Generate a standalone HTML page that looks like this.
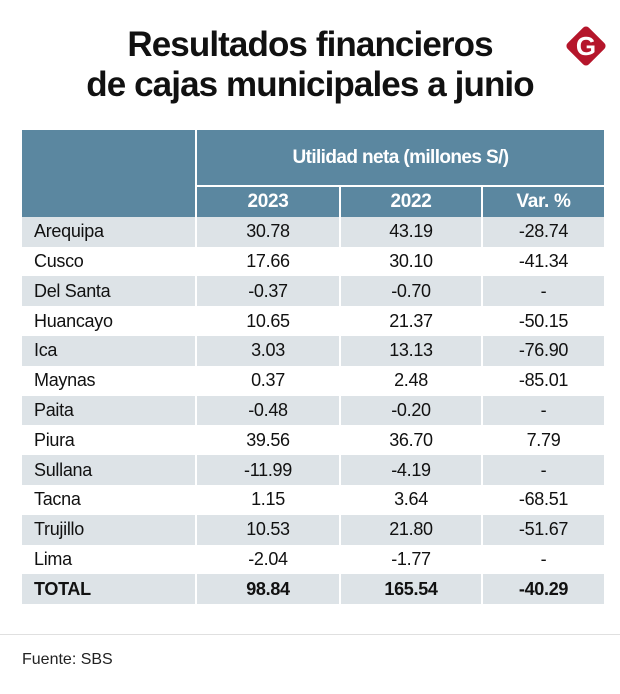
<!DOCTYPE html>
<html><head><meta charset="utf-8"><style>
body{margin:0;width:620px;height:694px;background:#fff;font-family:"Liberation Sans",sans-serif;position:relative;overflow:hidden;color:#111}
.title{position:absolute;left:0;width:620px;text-align:center;font-weight:bold;font-size:35px;letter-spacing:-0.9px;color:#111}
table{position:absolute;left:22px;top:130px;border-collapse:separate;border-spacing:2px 0;margin-left:-2px}
td{padding:0;height:29.8px;font-size:18px;text-align:center;letter-spacing:-0.3px}
td.n{text-align:left;padding-left:12px}
tr.s td{background:#dde3e7}
.h td{background:#5b87a0;color:#fff;font-weight:bold}
tr.t td{font-weight:bold}
</style></head><body>
<div class="title" style="top:25px">Resultados financieros</div>
<div class="title" style="top:65px">de cajas municipales a junio</div>
<svg style="position:absolute;left:562px;top:22px" width="48" height="48" viewBox="0 0 48 48">
<rect x="9" y="9" width="30" height="30" rx="4" transform="rotate(45 24 24)" fill="#b5162b"/>
<text x="24" y="33" text-anchor="middle" font-family="Liberation Sans" font-weight="bold" font-size="26" fill="#fff">G</text></svg>
<table id="tb">
<colgroup><col style="width:173px"><col style="width:142px"><col style="width:140px"><col style="width:121px"></colgroup>
<tr class="h"><td rowspan="2" style="height:80px"></td><td colspan="3" style="height:55px;border-bottom:2px solid #fff;font-size:19px;letter-spacing:-0.6px">Utilidad neta (millones S/)</td></tr>
<tr class="h"><td style="height:23px;font-size:19px">2023</td><td style="font-size:19px">2022</td><td style="font-size:19px">Var. %</td></tr>
</table>
<div style="position:absolute;left:0;top:634px;width:620px;height:1px;background:#e0e0e0"></div>
<div style="position:absolute;left:22px;top:651px;font-size:16px;color:#222">Fuente: SBS</div>
<script>
const names=["Arequipa","Cusco","Del Santa","Huancayo","Ica","Maynas","Paita","Piura","Sullana","Tacna","Trujillo","Lima","TOTAL"];
const v2023=["30.78","17.66","-0.37","10.65","3.03","0.37","-0.48","39.56","-11.99","1.15","10.53","-2.04","98.84"];
const v2022=["43.19","30.10","-0.70","21.37","13.13","2.48","-0.20","36.70","-4.19","3.64","21.80","-1.77","165.54"];
const vVar=["-28.74","-41.34","-","-50.15","-76.90","-85.01","-","7.79","-","-68.51","-51.67","-","-40.29"];
const tb=document.getElementById('tb');
names.forEach((n,i)=>{
  const tr=document.createElement('tr');
  
  
  if(i%2===0)tr.className='s';
  if(n==='TOTAL')tr.className+=' t';
  [n,v2023[i],v2022[i],vVar[i]].forEach((v,j)=>{
    const td=document.createElement('td');
    
    
    if(j===0)td.className='n';
    td.textContent=v;
    tr.appendChild(td);
  });
  tb.appendChild(tr);
});
</script>
</body></html>
